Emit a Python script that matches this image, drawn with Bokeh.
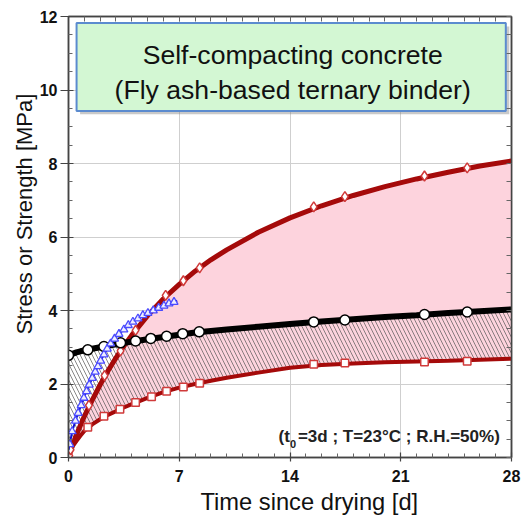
from bokeh.plotting import figure
from bokeh.models import Range1d, FixedTicker, LinearAxis, Label, Title
from bokeh.embed import file_html
from bokeh.resources import INLINE

# ---------------- data ----------------
# common time grid for fitted curves [days]
T = [0, 0.25, 0.5, 0.75, 1, 1.5, 2, 2.5, 3, 3.5, 4, 5, 6, 7, 8, 9, 10,
     12, 14, 16, 18, 20, 22, 24, 26, 28]
# upper strength curve (diamonds)
strength_hi = [0, 0.33, 0.62, 0.87, 1.12, 1.56, 1.98, 2.36, 2.71, 3.03, 3.33,
               3.86, 4.32, 4.71, 5.07, 5.38, 5.65, 6.13, 6.52, 6.85, 7.13,
               7.37, 7.58, 7.76, 7.93, 8.07]
# lower strength curve (squares)
strength_lo = [0, 0.3, 0.45, 0.59, 0.72, 0.9, 1.04, 1.16, 1.26, 1.36, 1.45,
               1.62, 1.78, 1.9, 2.0, 2.09, 2.17, 2.31, 2.44, 2.52, 2.56,
               2.59, 2.61, 2.63, 2.66, 2.69]
# stress curve (circles, black)
stress = [2.78, 2.82, 2.86, 2.89, 2.91, 2.96, 3.0, 3.04, 3.08, 3.12, 3.15,
          3.22, 3.28, 3.34, 3.4, 3.44, 3.48, 3.56, 3.63, 3.7, 3.76, 3.82,
          3.87, 3.93, 3.98, 4.03]

# measured points
dia_t = [0.05, 0.13, 1.29, 2.28, 3.29, 4.24, 6.14, 7.26, 8.29, 15.5, 17.47, 22.5, 25.2]
dia_y = [0.05, 0.21, 1.42, 2.23, 2.9, 3.46, 4.41, 4.81, 5.16, 6.82, 7.10, 7.66, 7.88]
sq_t = [1.22, 2.24, 3.25, 4.24, 5.25, 6.2, 7.26, 8.29, 15.5, 17.47, 22.5, 25.2]
sq_y = [0.82, 1.12, 1.31, 1.5, 1.65, 1.8, 1.92, 2.02, 2.54, 2.57, 2.6, 2.62]
circ_t = [0, 1.22, 2.24, 3.29, 4.24, 5.2, 6.2, 7.22, 8.26, 15.5, 17.47, 22.5, 25.2]
circ_y = [2.78, 2.93, 3.02, 3.12, 3.17, 3.24, 3.3, 3.37, 3.42, 3.69, 3.74, 3.89, 3.96]
# early-age measured curve (blue triangles)
blue_t = [0.0, 0.08, 0.23, 0.44, 0.61, 0.8, 0.97, 1.14, 1.31, 1.5, 1.69, 1.86,
          2.03, 2.24, 2.45, 2.66, 2.91, 3.19, 3.5, 3.78, 4.07, 4.39, 4.7, 5.02,
          5.36, 5.7, 6.03, 6.35, 6.67, 6.87]
blue_y = [0.2, 0.36, 0.71, 1.0, 1.21, 1.42, 1.62, 1.8, 1.98, 2.16, 2.33, 2.48,
          2.63, 2.8, 2.96, 3.1, 3.23, 3.36, 3.48, 3.6, 3.69, 3.78, 3.87, 3.93,
          4.0, 4.07, 4.13, 4.19, 4.23, 4.27]

x_ticks = [0, 7, 14, 21, 28]
y_ticks = [0, 2, 4, 6, 8, 10, 12]

FONT = "Liberation Sans"
DARKRED = "#a50a0a"
AXC = "#444444"

p = figure(width=522, height=520, output_backend="svg", toolbar_location=None,
           x_range=Range1d(0, 28), y_range=Range1d(0, 12),
           min_border_left=68, min_border_right=11, min_border_top=16,
           min_border_bottom=63, background_fill_color="white",
           border_fill_color="white")
p.outline_line_color = AXC
p.outline_line_width = 1.5

x_minor = [float(v) for v in range(0, 29) if v % 7 != 0]
y_minor = [v * 0.5 for v in range(0, 25) if v % 4 != 0]
x_all = [float(v) for v in range(0, 29)]
y_all = [v * 0.5 for v in range(0, 25)]

def base_style(ax):
    ax.axis_line_color = AXC
    ax.axis_line_width = 1.5
    ax.major_tick_line_color = AXC
    ax.minor_tick_line_color = "#666666"
    ax.major_tick_line_width = 1.2
    ax.minor_tick_line_width = 1
    ax.minor_tick_in = 4
    ax.minor_tick_out = 0
    ax.major_label_text_font = FONT
    ax.major_label_text_font_style = "bold"
    ax.major_label_text_font_size = "16px"
    ax.major_label_text_color = "#111111"

xa = p.xaxis[0]
base_style(xa)
xa.ticker = FixedTicker(ticks=x_ticks, minor_ticks=x_minor)
xa.major_tick_in = 5
xa.major_tick_out = 4
xa.major_label_standoff = 8
ya = p.yaxis[0]
base_style(ya)
ya.ticker = FixedTicker(ticks=y_ticks, minor_ticks=y_minor)
ya.major_tick_in = 5
ya.major_tick_out = 8
ya.major_label_standoff = 3

# top and right frame axes: ticks only (no labels)
top_ax = LinearAxis(ticker=FixedTicker(ticks=[], minor_ticks=x_all))
base_style(top_ax)
top_ax.minor_tick_in = 5
p.add_layout(top_ax, "above")
right_ax = LinearAxis(ticker=FixedTicker(ticks=[], minor_ticks=y_all))
base_style(right_ax)
right_ax.minor_tick_in = 5
p.add_layout(right_ax, "right")

p.xgrid.ticker = FixedTicker(ticks=x_ticks)
p.ygrid.ticker = FixedTicker(ticks=y_ticks)
for g in (p.xgrid, p.ygrid):
    g.grid_line_color = "#cfcfcf"
    g.grid_line_width = 1

# axis titles
p.add_layout(Title(text="Time since drying [d]", align="left", offset=132,
                   text_font=FONT, text_font_size="23.7px",
                   text_font_style="normal", text_color="#111111",
                   standoff=4), "below")
p.add_layout(Title(text="Stress or Strength [MPa]", align="left", offset=123,
                   text_font=FONT, text_font_size="22px",
                   text_font_style="normal", text_color="#111111",
                   standoff=0), "left")

# ---------------- fills ----------------
p.varea(x=T, y1=strength_lo, y2=strength_hi, fill_color="#fdd3dd", fill_alpha=1)
p.varea(x=T, y1=strength_lo, y2=stress, fill_alpha=0,
        hatch_pattern="\\", hatch_color="#555555", hatch_alpha=0.7,
        hatch_scale=8, hatch_weight=1)

# ---------------- title box ----------------
p.quad(left=[0.51 + 0.22], right=[27.64 + 0.22], top=[11.82 - 0.09], bottom=[9.43 - 0.09],
       fill_color="#888888", fill_alpha=0.45, line_alpha=0)
p.quad(left=[0.51], right=[27.64], top=[11.82], bottom=[9.43],
       fill_color="#d3f7d3", line_color="#5b8bcf", line_width=2)
p.add_layout(Label(x=14.17, y=10.95, text="Self-compacting concrete",
                   text_font=FONT, text_font_size="26.6px", text_align="center",
                   text_baseline="alphabetic", text_color="#111111"))
p.add_layout(Label(x=14.17, y=9.99, text="(Fly ash-based ternary binder)",
                   text_font=FONT, text_font_size="26.6px", text_align="center",
                   text_baseline="alphabetic", text_color="#111111"))

# ---------------- curves ----------------
p.line(T, strength_hi, line_color=DARKRED, line_width=5)
p.line(T, strength_lo, line_color=DARKRED, line_width=4)
p.line(T, stress, line_color="black", line_width=6)

p.scatter(dia_t, dia_y, marker="diamond", size=10, fill_color="white",
          line_color="#d03a3a", line_width=1.5)
p.scatter(sq_t, sq_y, marker="square", size=7.5, fill_color="white",
          line_color="#d03a3a", line_width=1.5)
p.scatter(circ_t, circ_y, marker="circle", size=10, fill_color="white",
          line_color="black", line_width=1.5)

p.line(blue_t, blue_y, line_color="#1010d0", line_width=2)
p.scatter(blue_t[1:-1], blue_y[1:-1], marker="triangle", size=8,
          fill_color="#eeeeff", line_color="#4a4aff", line_width=1.3)

# ---------------- annotation ----------------
p.add_layout(Label(x=13.28, y=0.566, text="(t", text_font=FONT,
                   text_font_style="bold", text_font_size="17px",
                   text_align="left", text_baseline="alphabetic", text_color="#222222"))
p.add_layout(Label(x=14.0, y=0.36, text="0", text_font=FONT,
                   text_font_style="bold", text_font_size="11px",
                   text_align="left", text_baseline="alphabetic", text_color="#222222"))
p.add_layout(Label(x=27.26, y=0.566, text="=3d ; T=23°C ; R.H.=50%)", text_font=FONT,
                   text_font_style="bold", text_font_size="17px",
                   text_align="right", text_baseline="alphabetic", text_color="#222222"))

open("out.html", "w").write(file_html(p, INLINE))
